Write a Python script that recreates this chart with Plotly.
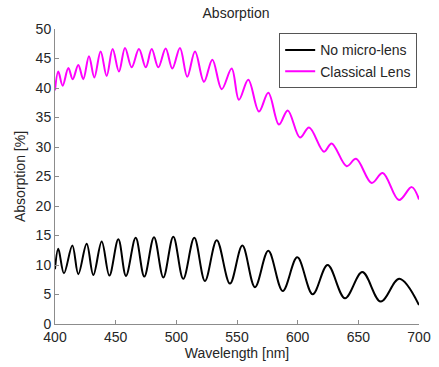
import plotly.graph_objects as go

# No micro-lens: peaks/troughs
wl_black = [400, 402.7, 407.4, 414.3, 419.2, 426.1, 431.6, 438.5, 444.8, 452.2, 458.5,
            466.5, 473.6, 481.6, 489.3, 497.5, 505.7, 514.8, 523.6, 533.3, 544.2,
            554.4, 564.8, 575.8, 587.7, 599.7, 612.4, 624.7, 639.0, 653.3, 668.4,
            683.8, 700]
abs_black = [9.3, 12.75, 8.6, 13.3, 8.45, 13.6, 8.3, 14.0, 8.2, 14.35, 8.15,
             14.6, 8.05, 14.7, 7.9, 14.8, 7.65, 14.6, 7.3, 14.2, 6.85,
             13.3, 6.25, 12.4, 5.6, 11.3, 5.05, 10.0, 4.37, 8.8, 3.8,
             7.65, 3.2]

# Classical Lens
wl_mag = [400, 402.7, 406.3, 411.0, 414.6, 419.2, 423.3, 428.0, 432.4, 437.6, 442.6,
          447.5, 452.7, 457.7, 463.2, 469.2, 474.8, 479.7, 485.2, 491.2, 496.7,
          503.0, 509.0, 515.4, 522.8, 529.7, 537.4, 545.6, 551.6, 559.3, 568.1,
          575.8, 584.6, 591.8, 601.9, 609.4, 621.7, 628.0, 640.4, 648.1, 661.0,
          670.1, 683.5, 694.0, 700]
abs_mag = [39.6, 42.8, 40.4, 43.4, 41.5, 43.9, 41.5, 45.4, 41.8, 46.2, 42.05,
           46.6, 42.8, 46.8, 43.5, 46.6, 43.5, 46.6, 43.5, 46.7, 43.3,
           46.8, 41.9, 46.2, 41.05, 44.8, 39.8, 43.3, 38.0, 41.4, 36.0,
           39.2, 33.8, 36.2, 31.6, 33.3, 29.2, 30.6, 26.75, 28.0, 23.9,
           25.6, 21.0, 23.2, 21.1]

x_ticks = [400, 450, 500, 550, 600, 650, 700]
y_ticks = [0, 5, 10, 15, 20, 25, 30, 35, 40, 45, 50]

font = "Liberation Sans, Arial, sans-serif"
txt = "#262626"

fig = go.Figure()
fig.add_trace(go.Scatter(x=wl_black, y=abs_black, mode="lines", name="No micro-lens",
                         line=dict(color="black", width=2, shape="spline", smoothing=1.0)))
fig.add_trace(go.Scatter(x=wl_mag, y=abs_mag, mode="lines", name="Classical Lens",
                         line=dict(color="#ff00ff", width=2, shape="spline", smoothing=1.0)))

axis_common = dict(showgrid=False, zeroline=False, showline=True, linecolor="#8c8c8c",
                   linewidth=1, ticks="inside", ticklen=4, tickcolor="#8c8c8c",
                   tickfont=dict(family=font, size=14, color=txt),
                   mirror=False, automargin=False)

fig.update_layout(
    width=439, height=367,
    margin=dict(l=55, r=20, t=29, b=43, autoexpand=False),
    paper_bgcolor="white", plot_bgcolor="white",
    title=dict(text="Absorption", x=236 / 439, xanchor="center", xref="container",
               y=1 - 13 / 367, yanchor="middle", yref="container", automargin=False,
               font=dict(family=font, size=14, color=txt)),
    xaxis=dict(range=[400, 700], tickvals=x_ticks,
               title=dict(text="Wavelength [nm]", standoff=0,
                          font=dict(family=font, size=14, color=txt)),
               **axis_common),
    yaxis=dict(range=[0, 50], tickvals=y_ticks,
               title=dict(text="Absorption [%]", standoff=6,
                          font=dict(family=font, size=14, color=txt)),
               **axis_common),
    legend=dict(x=0.995, y=0.985, xanchor="right", yanchor="top",
                bgcolor="white", bordercolor="#555", borderwidth=1,
                font=dict(family=font, size=14, color=txt),
                tracegroupgap=0, itemwidth=30),
    showlegend=True,
)

fig.write_html("out.html", config={"displayModeBar": False},
               post_script="document.body.style.margin='0px';document.body.style.overflow='hidden';")
